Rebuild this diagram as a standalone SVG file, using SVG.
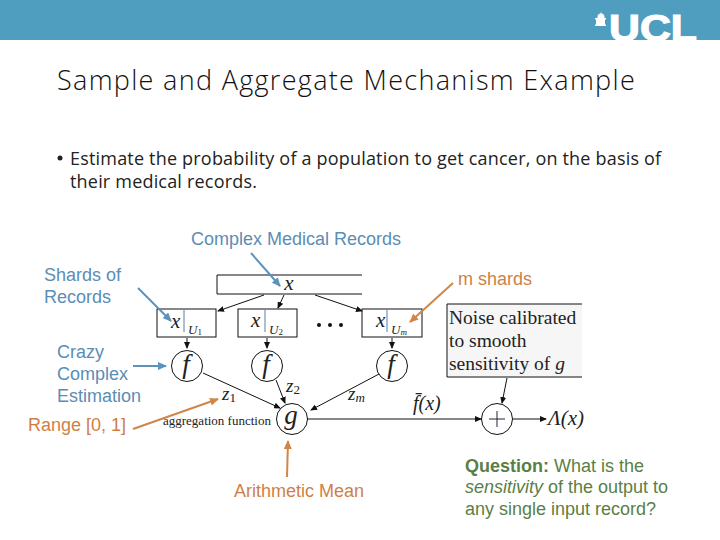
<svg xmlns="http://www.w3.org/2000/svg" width="720" height="540" viewBox="0 0 720 540">
<style>
.title{font-family:"Open Sans","Noto Sans",sans-serif;font-weight:300;font-size:27px;letter-spacing:1.31px;fill:#111}
.body{font-family:"Open Sans","Noto Sans",sans-serif;font-size:18px;letter-spacing:.19px;fill:#222}
.blue{font-family:"Liberation Sans",Arial,sans-serif;font-size:18px;fill:#5b8db5}
.orange{font-family:"Liberation Sans",Arial,sans-serif;font-size:18px;fill:#cf7f45}
.q{font-family:"Liberation Sans",Arial,sans-serif;font-size:18px;fill:#5a7f45}
.m{font-family:"Liberation Serif","Times New Roman",serif;font-style:italic;fill:#222}
.s{font-family:"Liberation Serif","Times New Roman",serif;fill:#222}
.box{fill:#fff;stroke:#111;stroke-width:1}
.c{fill:#fff;stroke:#111;stroke-width:1}
.k{stroke:#111;stroke-width:1;fill:none;marker-end:url(#ak)}
.bl{stroke:#5b93bd;stroke-width:2;fill:none;marker-end:url(#ab)}
.or{stroke:#d08648;stroke-width:2;fill:none;marker-end:url(#ao)}
</style>
<defs>
<marker id="ak" markerWidth="7" markerHeight="6" refX="6" refY="3" orient="auto" markerUnits="userSpaceOnUse"><path d="M0 0L7 3L0 6z" fill="#111"/></marker>
<marker id="ab" markerWidth="9" markerHeight="8" refX="8" refY="4" orient="auto" markerUnits="userSpaceOnUse"><path d="M0 0L9 4L0 8z" fill="#5b93bd"/></marker>
<marker id="ao" markerWidth="9" markerHeight="8" refX="8" refY="4" orient="auto" markerUnits="userSpaceOnUse"><path d="M0 0L9 4L0 8z" fill="#d08648"/></marker>
<clipPath id="hc"><rect width="720" height="40"/></clipPath>
</defs>
<rect width="720" height="540" fill="#fff"/>
<g id="header">
<rect width="720" height="40" fill="#4f9dbf"/>
<path d="M595 26h11v-1.500h-1v-5h1v-1.500h-1.500a4 4 0 0 0-3-4.500v-1h-1v1a4 4 0 0 0-3 4.500H595v1.500h1v5h-1z" fill="#fff"/>
<text x="609" y="41" font-family="'Liberation Sans',Arial,sans-serif" font-weight="700" font-size="37" fill="#fff" stroke="#fff" stroke-width="1.200" textLength="88" lengthAdjust="spacingAndGlyphs" clip-path="url(#hc)">UCL</text>
</g>
<text class="title" x="57" y="90">Sample and Aggregate Mechanism Example</text>
<circle cx="60" cy="158" r="2.500" fill="#222"/>
<text class="body" x="70" y="165">Estimate the probability of a population to get cancer, on the basis of</text>
<text class="body" x="70" y="188">their medical records.</text>

<g id="n-records">
<path class="box" d="M362 275H217V294H362"/>
<text class="m" x="289" y="290" font-size="21" text-anchor="middle">x</text>
</g>
<g id="n-shard1">
<rect class="box" x="157" y="309" width="59" height="28"/>
<text class="m" x="171" y="328" font-size="21">x</text><path d="M184 310V332" stroke="#5b7faa"/>
<text class="m" x="188" y="334" font-size="13" fill="#555">U<tspan font-size="9" dy="1" font-style="normal">1</tspan></text>
</g>
<g id="n-shard2">
<rect class="box" x="238" y="309" width="59" height="28"/>
<text class="m" x="251" y="327" font-size="21">x</text><path d="M265 310V332" stroke="#5b7faa"/>
<text class="m" x="269" y="334" font-size="13" fill="#555">U<tspan font-size="9" dy="1" font-style="normal">2</tspan></text>
</g>
<g id="n-dots"><circle cx="319" cy="325" r="2" fill="#111"/><circle cx="330" cy="325" r="2" fill="#111"/><circle cx="341" cy="325" r="2" fill="#111"/></g>
<g id="n-shardm">
<rect class="box" x="362" y="309" width="60" height="28"/>
<text class="m" x="376" y="327" font-size="21">x</text><path d="M387 310V332" stroke="#5b7faa"/>
<text class="m" x="391" y="334" font-size="13" fill="#555">U<tspan font-size="9" dy="1" font-style="italic">m</tspan></text>
</g>
<g id="n-f1"><circle class="c" cx="187" cy="366" r="15.500"/><text class="m" x="186" y="373" font-size="27" text-anchor="middle">f</text></g>
<g id="n-f2"><circle class="c" cx="267" cy="366" r="15.500"/><text class="m" x="266" y="373" font-size="27" text-anchor="middle">f</text></g>
<g id="n-fm"><circle class="c" cx="392" cy="366" r="15.500"/><text class="m" x="391" y="373" font-size="27" text-anchor="middle">f</text></g>
<g id="n-g"><circle class="c" cx="292" cy="419" r="15.500"/><text class="m" x="291" y="424" font-size="27" text-anchor="middle">g</text></g>
<g id="n-plus"><circle class="c" cx="497" cy="419" r="15.500"/><path d="M497 411V427M489 419H505" stroke="#223" stroke-width="1"/></g>
<g id="n-noise">
<path d="M582 304H447V377H582" fill="#f6f6f6" stroke="#111"/>
<text class="s" x="449" y="324" font-size="19.500">Noise calibrated</text>
<text class="s" x="449" y="347" font-size="19.500">to smooth</text>
<text class="s" x="449" y="370" font-size="19.500">sensitivity of <tspan class="m">g</tspan></text>
</g>
<g id="math">
<text class="m" x="222" y="400" font-size="19">z<tspan font-size="13" dy="2" font-style="normal">1</tspan></text>
<text class="m" x="286" y="392" font-size="19">z<tspan font-size="13" dy="2" font-style="normal">2</tspan></text>
<text class="m" x="348" y="400" font-size="19">z<tspan font-size="13" dy="2">m</tspan></text>
<text class="s" x="163" y="425" font-size="13">aggregation function</text>
<text class="m" x="413" y="410" font-size="20">f̄(x)</text>
<text class="m" x="548" y="425" font-size="21">Λ(x)</text>
</g>
<text class="blue" x="191" y="245">Complex Medical Records</text>
<text class="blue" x="44" y="281">Shards of</text>
<text class="blue" x="44" y="303">Records</text>
<text class="blue" x="57" y="358">Crazy</text>
<text class="blue" x="57" y="380">Complex</text>
<text class="blue" x="57" y="402">Estimation</text>
<text class="orange" x="28" y="431">Range [0, 1]</text>
<text class="orange" x="458" y="285">m shards</text>
<text class="orange" x="234" y="497">Arithmetic Mean</text>
<text class="q" x="465" y="472"><tspan font-weight="700">Question:</tspan> What is the</text>
<text class="q" x="465" y="493"><tspan font-style="italic">sensitivity</tspan> of the output to</text>
<text class="q" x="465" y="515">any single input record?</text>

<g id="connectors">
<path class="k" d="M264 295L218 311"/>
<path class="k" d="M284 295L278 308"/>
<path class="k" d="M315 295L362 311"/>
<path class="k" d="M187 338V348"/>
<path class="k" d="M267 338V348"/>
<path class="k" d="M392 338V348"/>
<path class="k" d="M203 373L280 408"/>
<path class="k" d="M276 380L285 403"/>
<path class="k" d="M379 374L311 410"/>
<path class="k" d="M307 419H481"/>
<path class="k" d="M507 378L502 403"/>
<path class="k" d="M513 419H546"/>
<path class="bl" d="M251 253L280 286"/>
<path class="bl" d="M138 288L171 321"/>
<path class="bl" d="M133 366H166"/>
<path class="or" d="M453 283L410 322"/>
<path class="or" d="M133 429L218 399"/>
<path class="or" d="M287 477L288 441"/>
</g>
</svg>
